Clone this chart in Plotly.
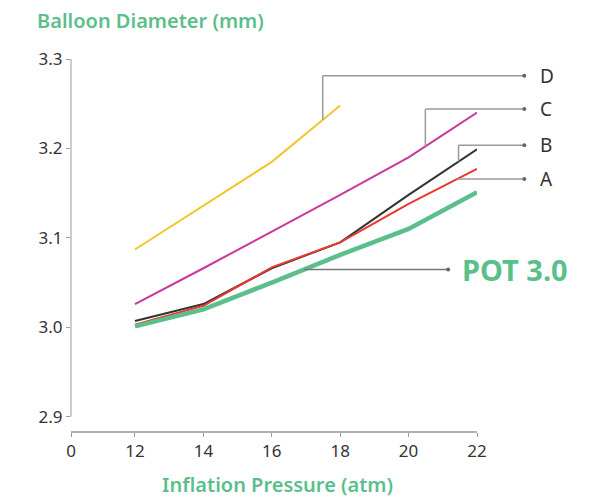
import numpy as np
import plotly.graph_objects as go

# ---- data ----
pressure = [12, 14, 16, 18, 20, 22]
pressure_d = [12, 14, 16, 18]
pot30 = [3.001, 3.020, 3.050, 3.081, 3.110, 3.151]
series_a = [3.003, 3.024, 3.067, 3.095, 3.138, 3.177]
series_b = [3.007, 3.026, 3.066, 3.095, 3.148, 3.199]
series_c = [3.026, 3.066, 3.107, 3.148, 3.190, 3.240]
series_d = [3.087, 3.136, 3.185, 3.248]
y_ticks = [2.9, 3.0, 3.1, 3.2, 3.3]
y_ticktext = ["2.9", "3.0", "3.1", "3.2", "3.3"]
x_ticktext = ["0", "12", "14", "16", "18", "20", "22"]

GREEN = "#5bbf8c"
X0 = 10.13
FONT = "Noto Sans"

fig = go.Figure()
traces = [
    (pressure_d, series_d, "#f2c62b", 2, "D"),
    (pressure, series_c, "#c9389b", 2, "C"),
    (pressure, series_b, "#333333", 2, "B"),
    (pressure, series_a, "#e8392e", 2, "A"),
    (pressure, pot30, GREEN, 4.5, "POT 3.0"),
]
for xs, ys, col, w, name in traces:
    fig.add_trace(go.Scatter(x=xs, y=ys, mode="lines", name=name,
                             line=dict(color=col, width=w), showlegend=False))

LEAD = "#9a9a9a"
END_X = 1.1165  # paper x of leader end dots
LABEL_X = 1.150


def leader(xs, ys, x_at, y_top, label):
    y_on = float(np.interp(x_at, xs, ys))
    if y_top is not None:
        fig.add_shape(type="line", xref="x", yref="y", x0=x_at, x1=x_at,
                      y0=y_on, y1=y_top, line=dict(color=LEAD, width=1.5))
        yh = y_top
    else:
        yh = y_on
    px_at = (x_at - X0) / (22 - X0)
    fig.add_shape(type="line", xref="paper", yref="y", x0=px_at, x1=END_X,
                  y0=yh, y1=yh, line=dict(color=LEAD, width=1.5))
    fig.add_shape(type="circle", xref="paper", yref="y", xsizemode="pixel",
                  ysizemode="pixel", xanchor=END_X, yanchor=yh,
                  x0=-2, x1=2, y0=-2, y1=2,
                  fillcolor="#666666", line=dict(width=0))
    fig.add_annotation(xref="paper", yref="y", x=LABEL_X, y=yh, text=label,
                       showarrow=False, xanchor="left", yanchor="middle",
                       font=dict(family=FONT, size=19, color="#333333"))


leader(pressure_d, series_d, 17.49, 3.2813, "D")
leader(pressure, series_c, 20.49, 3.244, "C")
leader(pressure, series_b, 21.46, 3.2035, "B")
leader(pressure, series_a, 21.42, None, "A")

# POT 3.0 leader
x_pot = 16.95
y_pot = float(np.interp(x_pot, pressure, pot30))
px_pot = (x_pot - X0) / (22 - X0)
fig.add_shape(type="line", xref="paper", yref="y", x0=px_pot, x1=0.929,
              y0=y_pot, y1=y_pot, line=dict(color="#777777", width=1.5))
fig.add_shape(type="circle", xref="paper", yref="y", xsizemode="pixel",
              ysizemode="pixel", xanchor=0.929, yanchor=y_pot,
              x0=-2, x1=2, y0=-2, y1=2, fillcolor="#666666", line=dict(width=0))
fig.add_annotation(xref="paper", yref="y", x=0.958, y=y_pot, text="<b>POT 3.0</b>",
                   showarrow=False, xanchor="left", yanchor="middle",
                   font=dict(family=FONT, size=29, color=GREEN))

# y axis line only from 2.9 to 3.3
fig.add_shape(type="line", xref="paper", yref="y", x0=0, x1=0, y0=2.9, y1=3.3,
              line=dict(color="#bbbbbb", width=1.5))

# titles
fig.add_annotation(xref="paper", yref="paper", x=-0.088, y=1.0, yshift=39,
                   text="Balloon Diameter (mm)", showarrow=False,
                   xanchor="left", yanchor="middle",
                   font=dict(family=FONT, size=20, color=GREEN, weight=600))
fig.add_annotation(xref="paper", yref="paper", x=0.508, y=0, yshift=-53,
                   text="Inflation Pressure (atm)", showarrow=False,
                   xanchor="center", yanchor="middle",
                   font=dict(family=FONT, size=20, color=GREEN, weight=600))

# page body has an 8px margin, so the figure is sized/offset to compensate
fig.update_layout(
    width=593, height=489,
    margin=dict(l=63, r=124, t=51, b=66),
    paper_bgcolor="white", plot_bgcolor="white",
    xaxis=dict(range=[X0, 22], tickvals=[X0] + pressure, ticktext=x_ticktext,
               showgrid=False, zeroline=False, showline=True,
               linecolor="#b0b0b0", linewidth=1.5, ticks="outside", ticklen=4,
               tickcolor="#999999", tickwidth=1,
               tickfont=dict(family=FONT, size=17, color="#333333")),
    yaxis=dict(range=[2.884, 3.3], tickvals=y_ticks, ticktext=y_ticktext,
               showgrid=False, zeroline=False, showline=False,
               ticks="outside", ticklen=4, tickcolor="#999999", tickwidth=1,
               tickfont=dict(family=FONT, size=17, color="#333333")),
)

fig.write_html("out.html")
